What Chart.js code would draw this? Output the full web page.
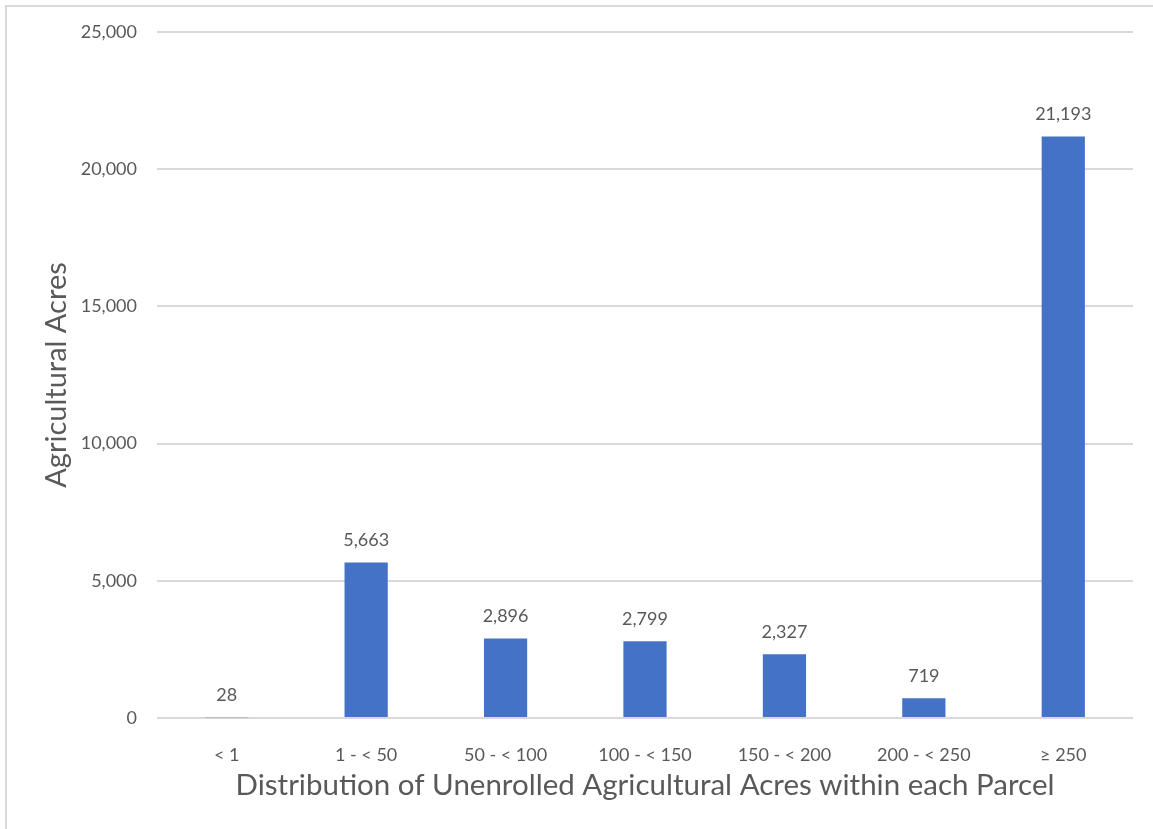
<!DOCTYPE html>
<html>
<head>
<meta charset="utf-8">
<script src="https://cdn.jsdelivr.net/npm/chart.js@4"></script>
<style>
  html, body { margin: 0; padding: 0; background: #fff; }
  #frame {
    position: absolute; left: 5px; top: 5px;
    width: 1148px; height: 824px; box-sizing: border-box;
    border-left: 2px solid #d9d9d9; border-top: 2px solid #d9d9d9;
  }
  #chart { display: block; }
</style>
</head>
<body>
<div id="frame"><canvas id="chart"></canvas></div>
<script>
  // data
  const categories = ["< 1", "1 - < 50", "50 - < 100", "100 - < 150", "150 - < 200", "200 - < 250", "\u2265 250"];
  const acres = [28, 5663, 2896, 2799, 2327, 719, 21193];
  const yTicks = [0, 5000, 10000, 15000, 20000, 25000];

  const textColor = "#595959";
  const fontFamily = "Lato, 'Open Sans', sans-serif";

  // writes the value above each bar
  const barLabels = {
    id: "barLabels",
    afterDatasetsDraw(chart) {
      const ctx = chart.ctx;
      const meta = chart.getDatasetMeta(0);
      ctx.save();
      ctx.font = "18px " + fontFamily;
      ctx.fillStyle = textColor;
      ctx.textAlign = "center";
      ctx.textBaseline = "bottom";
      meta.data.forEach(function (bar, i) {
        ctx.fillText(acres[i].toLocaleString("en-US"), bar.x, bar.y - 13);
      });
      ctx.restore();
    }
  };

  new Chart(document.getElementById("chart"), {
    type: "bar",
    data: {
      labels: categories,
      datasets: [{
        data: acres,
        backgroundColor: "#4472C4",
        categoryPercentage: 1,
        barPercentage: 0.31
      }]
    },
    options: {
      responsive: true,
      maintainAspectRatio: false,
      animation: false,
      layout: { padding: { top: 25, right: 20, left: 0, bottom: 0 } },
      plugins: { legend: { display: false }, tooltip: { enabled: false } },
      scales: {
        x: {
          grid: { display: false },
          border: { display: false },
          ticks: { color: textColor, font: { family: fontFamily, size: 18 }, padding: 18 },
          title: {
            display: true,
            text: "Distribution of Unenrolled Agricultural Acres within each Parcel",
            color: textColor,
            font: { family: fontFamily, size: 29.5 },
            padding: { top: 0, bottom: 26 }
          },
          afterFit(scale) { scale.height = 111; }
        },
        y: {
          min: 0,
          max: 25000,
          afterBuildTicks(scale) { scale.ticks = yTicks.map(v => ({ value: v })); },
          grid: { color: "#d9d9d9", lineWidth: 2, drawTicks: false },
          border: { display: false },
          ticks: {
            color: textColor,
            font: { family: fontFamily, size: 18 },
            padding: 20,
            callback: v => v.toLocaleString("en-US")
          },
          title: {
            display: true,
            text: "Agricultural Acres",
            color: textColor,
            font: { family: fontFamily, size: 29 },
            padding: { top: 32, bottom: 0 }
          },
          afterFit(scale) {
            scale.width = 150;
            // tick padding is otherwise added above the top label too
            scale.paddingTop = 0;
            scale.paddingBottom = 0;
          }
        }
      }
    },
    plugins: [barLabels]
  });
</script>
</body>
</html>
